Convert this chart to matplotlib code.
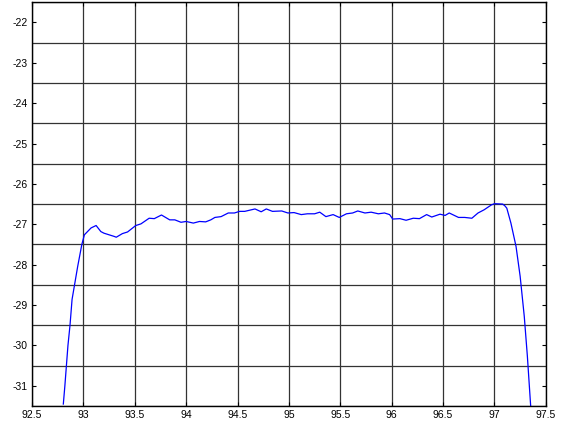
import numpy as np
import matplotlib.pyplot as plt

plt.rcParams['font.family'] = ['Liberation Sans', 'DejaVu Sans']

freq = [92.805, 92.82, 92.85, 92.87, 92.89, 92.945, 92.985, 93.01, 93.075, 93.124,
        93.17, 93.20, 93.25, 93.30, 93.32, 93.38, 93.43, 93.51, 93.56, 93.64,
        93.69, 93.76, 93.84, 93.89, 93.95, 94.00, 94.07, 94.13, 94.19, 94.24,
        94.28, 94.34, 94.41, 94.47, 94.52, 94.57, 94.67, 94.73, 94.78, 94.84,
        94.93, 94.99, 95.05, 95.12, 95.18, 95.25, 95.30, 95.36, 95.43, 95.49,
        95.56, 95.62, 95.67, 95.74, 95.80, 95.87, 95.93, 95.98, 96.01, 96.08,
        96.14, 96.21, 96.27, 96.34, 96.39, 96.47, 96.52, 96.56, 96.65, 96.71,
        96.78, 96.84, 96.90, 96.97, 97.00, 97.08, 97.10, 97.12, 97.16, 97.21,
        97.25, 97.29, 97.32, 97.35, 97.355]
level = [-31.45, -31.0, -30.0, -29.5, -28.86, -28.04, -27.50, -27.26, -27.09, -27.03,
         -27.18, -27.22, -27.26, -27.30, -27.32, -27.23, -27.19, -27.03, -26.99, -26.85,
         -26.86, -26.77, -26.89, -26.89, -26.95, -26.93, -26.97, -26.93, -26.94, -26.89,
         -26.83, -26.81, -26.72, -26.72, -26.68, -26.68, -26.62, -26.69, -26.62, -26.68,
         -26.67, -26.72, -26.71, -26.76, -26.74, -26.74, -26.70, -26.81, -26.76, -26.83,
         -26.74, -26.72, -26.67, -26.72, -26.70, -26.74, -26.72, -26.76, -26.87, -26.86,
         -26.90, -26.85, -26.86, -26.76, -26.82, -26.75, -26.78, -26.72, -26.83, -26.83,
         -26.85, -26.72, -26.64, -26.52, -26.49, -26.50, -26.54, -26.60, -26.97, -27.55,
         -28.29, -29.28, -30.26, -31.41, -31.6]

xticks = np.arange(92.5, 97.51, 0.5)
yticks = np.arange(-31, -21, 1)
ygrid = np.arange(-31.5, -21.4, 1)

fig = plt.figure(figsize=(5.61, 4.23), dpi=100)
ax = fig.add_axes([0.057, 0.040, 0.916, 0.955])

ax.plot(freq, level, color='blue', linewidth=0.9)

ax.set_xlim(92.5, 97.5)
ax.set_ylim(-31.5, -21.5)
ax.set_xticks(xticks)
ax.set_xticklabels(['%g' % t for t in xticks])
ax.set_yticks(yticks)
ax.set_yticklabels(['%d' % t for t in yticks])
ax.set_yticks(ygrid, minor=True)

ax.grid(True, which='major', axis='x', color='#333333', linewidth=0.9, linestyle='-')
ax.grid(True, which='minor', axis='y', color='#333333', linewidth=0.9, linestyle='-')
ax.tick_params(which='minor', length=0)
ax.tick_params(which='major', direction='in', length=3, labelsize=7.5,
               top=True, right=True, pad=3)
for s in ax.spines.values():
    s.set_linewidth(1.0)

fig.savefig('out.png', dpi=100)
